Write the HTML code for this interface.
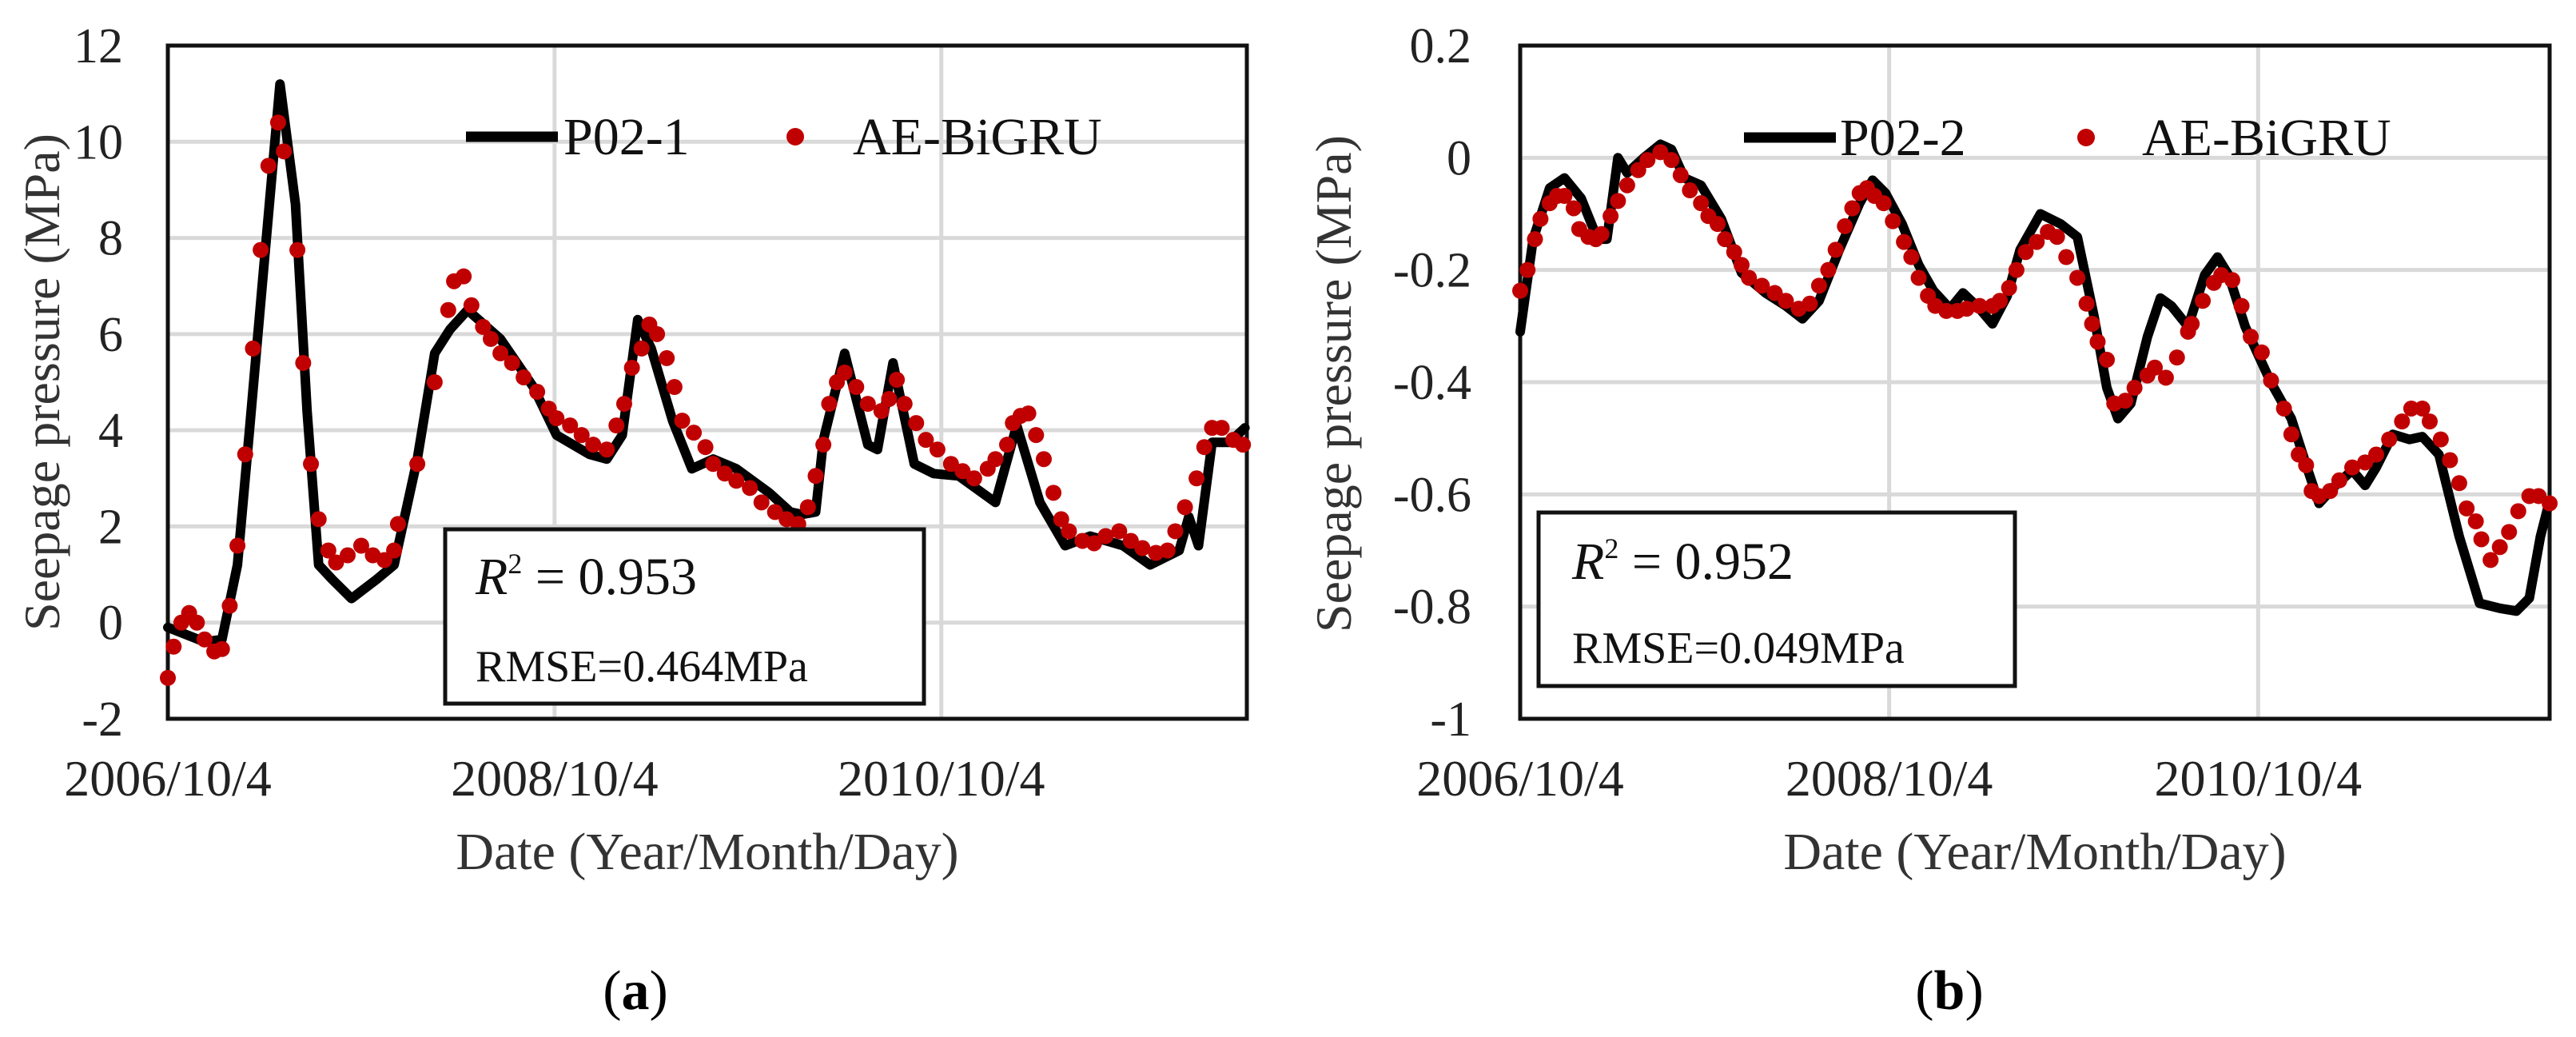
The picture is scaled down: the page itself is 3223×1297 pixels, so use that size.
<!DOCTYPE html>
<html><head><meta charset="utf-8"><style>
html,body{margin:0;padding:0;background:#fff;}
svg{display:block;font-family:"Liberation Serif","DejaVu Serif",serif;}
</style></head><body>
<svg id="chart" width="3223" height="1297" viewBox="0 0 3223 1297" xmlns="http://www.w3.org/2000/svg">
<rect width="3223" height="1297" fill="#fff"/>
<g id="pa"></g>
<g id="pb"></g>
</svg>
<script>
// Panel (a) data: time in years since 2006/10/4
const aLineT = [0,0.19,0.28,0.36,0.42,0.49,0.58,0.66,0.72,0.78,0.85,0.95,1.08,1.17,1.29,1.38,1.46,1.55,1.72,1.89,2.01,2.18,2.27,2.35,2.43,2.50,2.61,2.71,2.82,2.94,3.11,3.22,3.28,3.35,3.39,3.50,3.62,3.67,3.75,3.86,3.96,4.09,4.28,4.39,4.51,4.64,4.77,4.94,5.08,5.23,5.28,5.33,5.40,5.49,5.57];
const aLineV = [-0.1,-0.4,-0.35,1.2,3.9,7.1,11.2,8.7,4.4,1.2,0.9,0.5,0.9,1.2,3.4,5.6,6.1,6.5,5.9,4.9,3.9,3.5,3.4,3.9,6.3,5.7,4.2,3.2,3.4,3.2,2.7,2.3,2.25,2.3,3.8,5.6,3.7,3.6,5.4,3.3,3.1,3.05,2.5,4.1,2.5,1.6,1.8,1.6,1.2,1.5,2.2,1.6,3.75,3.75,4.05];
const aDotT = [0,0.03,0.07,0.11,0.15,0.19,0.24,0.28,0.32,0.36,0.40,0.44,0.48,0.52,0.57,0.60,0.67,0.70,0.74,0.78,0.83,0.87,0.93,1.00,1.06,1.12,1.17,1.19,1.29,1.38,1.45,1.48,1.53,1.57,1.63,1.67,1.72,1.78,1.84,1.91,1.97,2.01,2.08,2.14,2.20,2.27,2.32,2.36,2.40,2.45,2.49,2.53,2.58,2.62,2.66,2.72,2.78,2.82,2.88,2.94,3.01,3.07,3.14,3.20,3.26,3.31,3.35,3.39,3.42,3.46,3.50,3.56,3.62,3.69,3.73,3.77,3.81,3.87,3.92,3.98,4.05,4.11,4.17,4.24,4.28,4.34,4.37,4.41,4.45,4.49,4.53,4.58,4.62,4.66,4.73,4.79,4.85,4.92,4.98,5.04,5.11,5.17,5.21,5.26,5.32,5.36,5.40,5.45,5.51,5.56];
const aDotV = [-1.15,-0.5,0.0,0.2,0.0,-0.35,-0.6,-0.55,0.35,1.6,3.5,5.7,7.75,9.5,10.4,9.8,7.75,5.4,3.3,2.15,1.5,1.25,1.4,1.6,1.4,1.3,1.5,2.05,3.3,5.0,6.5,7.1,7.2,6.6,6.15,5.9,5.6,5.4,5.1,4.8,4.45,4.25,4.1,3.9,3.7,3.6,4.1,4.55,5.3,5.7,6.2,6.0,5.5,4.9,4.2,3.95,3.65,3.3,3.1,2.95,2.8,2.5,2.3,2.15,2.05,2.4,3.05,3.7,4.55,5.0,5.2,4.9,4.55,4.4,4.65,5.05,4.55,4.15,3.8,3.6,3.3,3.15,3.0,3.2,3.4,3.7,4.15,4.3,4.35,3.9,3.4,2.7,2.15,1.9,1.7,1.65,1.8,1.9,1.7,1.55,1.45,1.5,1.9,2.4,3.0,3.65,4.05,4.05,3.8,3.7];
const aYTicks = [12,10,8,6,4,2,0,-2];
// Panel (b) data
const bLineT = [0,0.07,0.16,0.24,0.33,0.42,0.47,0.53,0.58,0.67,0.76,0.82,0.89,0.98,1.09,1.20,1.33,1.44,1.53,1.62,1.73,1.84,1.91,1.98,2.07,2.16,2.24,2.33,2.40,2.49,2.56,2.64,2.71,2.82,2.93,3.02,3.11,3.18,3.24,3.31,3.40,3.47,3.53,3.62,3.71,3.78,3.84,3.93,4.07,4.18,4.27,4.33,4.42,4.51,4.58,4.64,4.73,4.82,4.89,4.98,5.09,5.20,5.31,5.40,5.47,5.53,5.58];
const bLineV = [-0.31,-0.145,-0.054,-0.036,-0.072,-0.145,-0.145,0.0,-0.027,0.0,0.024,0.015,-0.036,-0.049,-0.109,-0.205,-0.241,-0.264,-0.287,-0.255,-0.164,-0.081,-0.040,-0.063,-0.118,-0.191,-0.237,-0.269,-0.241,-0.269,-0.296,-0.246,-0.164,-0.100,-0.118,-0.141,-0.282,-0.41,-0.465,-0.438,-0.319,-0.250,-0.264,-0.301,-0.209,-0.177,-0.209,-0.301,-0.401,-0.465,-0.557,-0.616,-0.584,-0.557,-0.584,-0.552,-0.493,-0.502,-0.497,-0.529,-0.675,-0.794,-0.803,-0.808,-0.785,-0.675,-0.611];
const bDotT = [0,0.04,0.08,0.11,0.16,0.2,0.24,0.29,0.32,0.37,0.41,0.44,0.49,0.53,0.58,0.64,0.69,0.76,0.82,0.87,0.92,0.98,1.02,1.07,1.11,1.16,1.2,1.24,1.31,1.38,1.44,1.51,1.57,1.62,1.67,1.71,1.76,1.8,1.84,1.88,1.92,1.97,2.02,2.08,2.12,2.16,2.21,2.25,2.31,2.37,2.42,2.49,2.56,2.6,2.65,2.69,2.74,2.8,2.86,2.91,2.96,3.02,3.07,3.1,3.13,3.18,3.22,3.28,3.33,3.4,3.44,3.5,3.56,3.62,3.64,3.7,3.76,3.8,3.86,3.91,3.96,4.02,4.07,4.14,4.18,4.22,4.26,4.29,4.33,4.39,4.44,4.51,4.58,4.64,4.71,4.78,4.83,4.89,4.93,4.99,5.04,5.09,5.13,5.18,5.21,5.26,5.31,5.36,5.41,5.47,5.52,5.58];
const bDotV = [-0.237,-0.2,-0.145,-0.109,-0.081,-0.068,-0.068,-0.09,-0.127,-0.141,-0.145,-0.136,-0.104,-0.077,-0.049,-0.022,-0.004,0.01,-0.004,-0.031,-0.058,-0.081,-0.104,-0.118,-0.145,-0.168,-0.191,-0.214,-0.228,-0.241,-0.255,-0.269,-0.26,-0.228,-0.2,-0.164,-0.122,-0.09,-0.063,-0.054,-0.068,-0.081,-0.113,-0.15,-0.177,-0.214,-0.246,-0.264,-0.273,-0.273,-0.269,-0.264,-0.264,-0.255,-0.232,-0.2,-0.168,-0.15,-0.132,-0.141,-0.177,-0.214,-0.26,-0.296,-0.328,-0.36,-0.438,-0.433,-0.41,-0.388,-0.374,-0.392,-0.356,-0.31,-0.296,-0.255,-0.223,-0.209,-0.218,-0.264,-0.319,-0.347,-0.397,-0.447,-0.493,-0.529,-0.548,-0.594,-0.603,-0.594,-0.575,-0.552,-0.543,-0.529,-0.502,-0.47,-0.447,-0.447,-0.47,-0.502,-0.539,-0.58,-0.625,-0.648,-0.68,-0.717,-0.694,-0.667,-0.63,-0.603,-0.603,-0.616];
const bYTicks = ['0.2','0','-0.2','-0.4','-0.6','-0.8','-1'];
const xTickT = [0,2,4];
const xTickLabels = ['2006/10/4','2008/10/4','2010/10/4'];

const NS='http://www.w3.org/2000/svg';
function mk(parent,tag,attrs,text){const e=document.createElementNS(NS,tag);for(const k in attrs)e.setAttribute(k,attrs[k]);if(text!==undefined)e.textContent=text;parent.appendChild(e);return e;}

function panel(g,cfg){
  const {x0,x1,y0,y1,ymin,ymax,tmax}=cfg;
  const sx=t=>x0+(t/tmax)*(x1-x0);
  const sy=v=>y1-(v-ymin)/(ymax-ymin)*(y1-y0);
  cfg.yTicks.forEach(tv=>{const v=parseFloat(tv);
    if(v!==ymin&&v!==ymax){const l=mk(g,'line',{x1:x0,x2:x1,y1:sy(v),y2:sy(v),stroke:'#d9d9d9','stroke-width':5});
    
    }
    const t=mk(g,'text',{x:cfg.ytx,y:sy(v)+21,'text-anchor':'end','font-size':62,fill:'#222'},String(tv));
    
    
  });
  xTickT.forEach((tt,i)=>{
    if(tt>0){const l=mk(g,'line',{x1:sx(tt),x2:sx(tt),y1:y0,y2:y1,stroke:'#d9d9d9','stroke-width':5});
    
    }
    const t=mk(g,'text',{x:sx(tt),y:995,'text-anchor':'middle','font-size':64,fill:'#222'},xTickLabels[i]);
    
    
  });
  const f=mk(g,'rect',{x:x0,y:y0,width:x1-x0,height:y1-y0,fill:'none',stroke:'#111','stroke-width':5});
  
  
  let d='';cfg.lt.forEach((t,i)=>{d+=(i?'L':'M')+sx(t).toFixed(1)+','+sy(cfg.lv[i]).toFixed(1);});
  const p=mk(g,'path',{d:d,fill:'none',stroke:'#000','stroke-width':12,'stroke-linejoin':'round','stroke-linecap':'round'});
  
  
  cfg.dt.forEach((t,i)=>{const c=mk(g,'circle',{cx:sx(t),cy:sy(cfg.dv[i]),r:10,fill:'#c00000'});
    
    });
  const L=cfg.leg;
  const ll=mk(g,'line',{x1:L.lx1,x2:L.lx2,y1:L.y,y2:L.y,stroke:'#000','stroke-width':13});
  
  
  const lt=mk(g,'text',{x:L.tx,y:L.y+22,'font-size':66,fill:'#111'},cfg.name);
  
  
  const ld=mk(g,'circle',{cx:L.dx,cy:L.y,r:11,fill:'#c00000'});
  
  
  const lt2=mk(g,'text',{x:L.t2x,y:L.y+22,'font-size':66,fill:'#111'},'AE-BiGRU');
  
  
  const B=cfg.box;
  const br=mk(g,'rect',{x:B.x,y:B.y,width:B.w,height:B.h,fill:'#fff',stroke:'#111','stroke-width':5});
  
  
  const r2=mk(g,'text',{x:B.tx,y:B.r2y,'font-size':66,fill:'#111'});
  
  
  mk(r2,'tspan',{'font-style':'italic'},'R');
  mk(r2,'tspan',{dy:-26,'font-size':36},'2');
  mk(r2,'tspan',{dy:26},' = '+cfg.r2);
  const rm=mk(g,'text',{x:B.tx,y:B.rmy,'font-size':56,fill:'#111'},'RMSE='+cfg.rmse+'MPa');
  
  
  const yt=mk(g,'text',{x:0,y:0,'text-anchor':'middle','font-size':64,fill:'#333',transform:`translate(${cfg.ytitleX},${cfg.ytitleY}) rotate(-90)`},'Seepage pressure (MPa)');
  
  
  const xt=mk(g,'text',{x:(x0+x1)/2,y:1087,'text-anchor':'middle','font-size':66,fill:'#333'},'Date (Year/Month/Day)');
  
  
  const cap=mk(g,'text',{x:cfg.capX,y:1262,'text-anchor':'middle','font-size':70,fill:'#000'});
  
  
  mk(cap,'tspan',{},'(');mk(cap,'tspan',{'font-weight':'bold'},cfg.letter);mk(cap,'tspan',{},')');
}

panel(document.getElementById('pa'),{x0:210,x1:1560,y0:57,y1:899,ymin:-2,ymax:12,tmax:5.58,yTicks:aYTicks,ytx:154,
  lt:aLineT,lv:aLineV,dt:aDotT,dv:aDotV,name:'P02-1',
  leg:{lx1:583,lx2:698,y:171,tx:705,dx:995,t2x:1067},
  box:{x:557,y:662,w:599,h:218,tx:595,r2y:743,rmy:852},r2:'0.953',rmse:'0.464',
  ytitleX:74,ytitleY:478,capX:795,letter:'a'});
panel(document.getElementById('pb'),{x0:1902,x1:3190,y0:57,y1:899,ymin:-1,ymax:0.2,tmax:5.58,yTicks:bYTicks,ytx:1841,
  lt:bLineT,lv:bLineV,dt:bDotT,dv:bDotV,name:'P02-2',
  leg:{lx1:2182,lx2:2297,y:172,tx:2302,dx:2610,t2x:2680},
  box:{x:1925,y:641,w:596,h:217,tx:1967,r2y:724,rmy:829},r2:'0.952',rmse:'0.049',
  ytitleX:1690,ytitleY:480,capX:2439,letter:'b'});
</script>
</body></html>
